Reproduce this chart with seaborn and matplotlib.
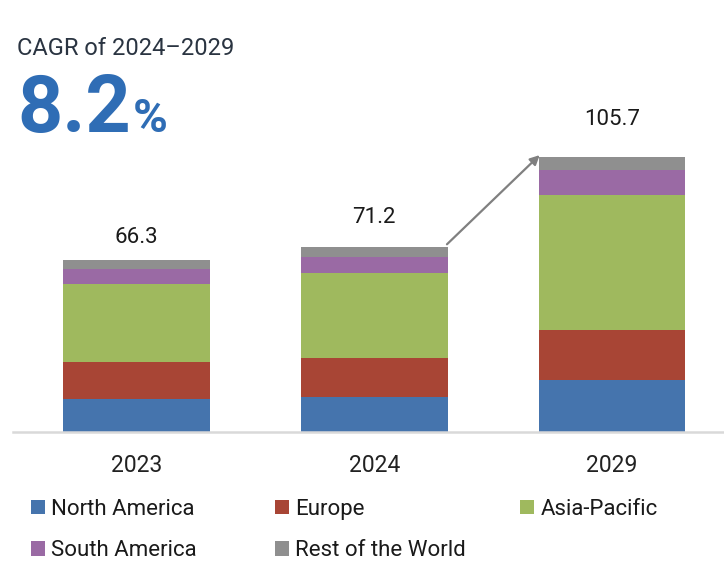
import numpy as np
import pandas as pd
import matplotlib
matplotlib.use("Agg")
import matplotlib.pyplot as plt
from matplotlib.patches import Patch
import seaborn as sns

# ---- data ----
years = ["2023", "2024", "2029"]
regions = ["North America", "Europe", "Asia-Pacific", "South America", "Rest of the World"]
north_america = [12.7, 13.5, 19.9]
europe = [14.3, 15.0, 19.5]
asia_pacific = [30.0, 32.7, 51.9]
south_america = [5.8, 6.2, 9.3]
rest_of_world = [3.5, 3.8, 5.1]
totals = [66.3, 71.2, 105.7]
title_text = "CAGR of 2024\u20132029"
cagr_value = "8.2"
cagr_unit = "%"

colors = ["#4574AD", "#A84535", "#9FB95E", "#9A6AA4", "#8F8F8F"]

sns.set_theme(style="white")
plt.rcParams["font.family"] = ["Roboto", "DejaVu Sans"]

series = [north_america, europe, asia_pacific, south_america, rest_of_world]
df = pd.DataFrame({"year": years})
for name, vals in zip(regions, series):
    df[name] = vals
cum = df[regions].cumsum(axis=1)

W, H = 724, 585
fig = plt.figure(figsize=(W / 100, H / 100), dpi=100)
ax_left, ax_right = 13 / W, 1.0
ax_bottom = (H - 432) / H
ax_height = 312 / H
ax = fig.add_axes([ax_left, ax_bottom, ax_right - ax_left, ax_height])

bar_w = 0.618
# stacked bars: draw cumulative totals from the top layer down
for i in range(len(regions) - 1, -1, -1):
    sns.barplot(x=df["year"], y=cum[regions[i]], color=colors[i], saturation=1,
                width=bar_w, linewidth=0, errorbar=None, ax=ax, order=years)

ax.set_xlim(-0.519, 2.471)
ax.set_ylim(0, 120)
ax.set_xlabel("")
ax.set_ylabel("")
ax.set_yticks([])
for s in ["left", "right", "top"]:
    ax.spines[s].set_visible(False)
ax.spines["bottom"].set_color("#d9d9d9")
ax.spines["bottom"].set_linewidth(1.8)
ax.tick_params(axis="x", length=0, pad=15.5, labelsize=16.5, labelcolor="#222222")

# value labels
label_offsets_px = [17, 24, 32]
for i, t in enumerate(totals):
    ax.annotate(f"{t}", (i, t), xytext=(0, label_offsets_px[i]), textcoords="offset pixels",
                ha="center", va="baseline", fontsize=16, color="#1a1a1a")

# growth arrow 2024 -> 2029
ax.annotate("", xy=(2 - bar_w / 2 + 0.005, totals[2] + 0.8),
            xytext=(1 + bar_w / 2 - 0.003, totals[1] + 1.0),
            arrowprops=dict(arrowstyle="-|>", color="#808080", lw=1.6,
                            shrinkA=0, shrinkB=0, mutation_scale=14))

# header texts
fig.text(17 / W, 1 - 55 / H, title_text, fontsize=17, color="#2a3441",
         ha="left", va="baseline")
t1 = fig.text(17 / W, 1 - 132 / H, cagr_value, fontsize=57, fontweight="bold",
              color="#2F6DB5", ha="left", va="baseline")
fig.canvas.draw()
bb = t1.get_window_extent(renderer=fig.canvas.get_renderer())
fig.text(bb.x1 / W + 2 / W, 1 - 132 / H, cagr_unit, fontsize=34, fontweight="bold",
         color="#2F6DB5", ha="left", va="baseline")

# legend in three columns
col_x = [31, 275, 520]
col_items = [[0, 3], [1, 4], [2]]
for cx, items in zip(col_x, col_items):
    handles = [Patch(facecolor=colors[k], edgecolor="none") for k in items]
    labels = [regions[k] for k in items]
    fig.legend(handles, labels, loc="upper left", bbox_to_anchor=(cx / W, 1 - 499 / H),
               frameon=False, fontsize=16, handlelength=0.62, handleheight=0.62,
               handletextpad=0.3, labelspacing=0.92, borderpad=0, borderaxespad=0,
               labelcolor="#1a1a1a")

fig.savefig("out.png", dpi=100)
